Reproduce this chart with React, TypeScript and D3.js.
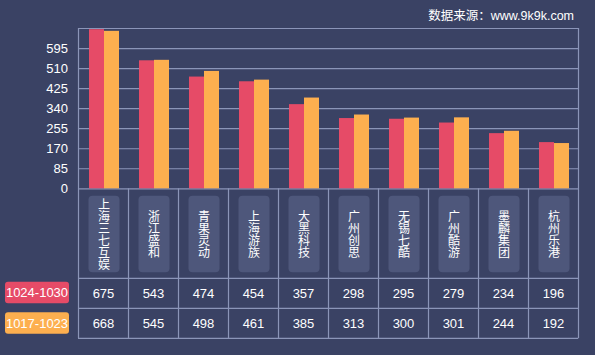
import React from "react";
import * as d3 from "d3";

const categories = ["上海三七互娱", "浙江盛和", "青果灵动", "上海游族", "大黑科技", "广州创思", "无锡七酷", "广州酷游", "墨麟集团", "杭州乐港"];
const seriesNames = ["1024-1030", "1017-1023"];
const series1 = [675, 543, 474, 454, 357, 298, 295, 279, 234, 196];
const series2 = [668, 545, 498, 461, 385, 313, 300, 301, 244, 192];
const yTicks = [0, 85, 170, 255, 340, 425, 510, 595];
const colors = ["#e64b67", "#fdaf4f"];

const W = 595, H = 355;
const L = 78, R = 578, T = 28, Z = 188.3;
const labelBottom = 278.3, row1Bottom = 308.3, row2Bottom = 338.3;
const BG = "#3a4264";
const GRID = "#8b95b8";
const MIXED = "'Liberation Sans', 'Noto Sans CJK SC', sans-serif";

export default function App() {
  const x = d3.scaleBand<string>().domain(categories).range([L, R]).padding(0);
  const y = d3.scaleLinear().domain([0, 680]).range([Z, T]);
  const bw = 15;
  const data = [series1, series2];
  return (
    <svg width={W} height={H} style={{ position: "fixed", left: 0, top: 0, background: BG }}
      fontFamily="'Liberation Sans', Arial, sans-serif">
      <rect x={0} y={0} width={W} height={H} fill={BG} />
      <text x={574} y={20} fill="#fff" fontSize={12.5} textAnchor="end"
        fontFamily={MIXED}>数据来源：www.9k9k.com</text>
      {/* grid lines */}
      {yTicks.map((t) => (
        <g key={t}>
          <line x1={L} x2={R} y1={y(t) + 0.5} y2={y(t) + 0.5} stroke={GRID} strokeWidth={1.2} />
          <text x={68} y={y(t) + 4.5} fill="#fff" fontSize={13} textAnchor="end">{t}</text>
        </g>
      ))}
      <line x1={L} x2={R} y1={T + 0.5} y2={T + 0.5} stroke={GRID} strokeWidth={1.2} />
      {/* bars */}
      {categories.map((c, i) => {
        const cx = (x(c) as number) + x.bandwidth() / 2 + 1;
        return data.map((s, k) => (
          <rect key={c + k} x={cx - bw + k * bw} y={y(s[i])} width={bw} height={Z - y(s[i])} fill={colors[k]} />
        ));
      })}
      {/* vertical lines */}
      <line x1={L + 0.5} x2={L + 0.5} y1={T} y2={row2Bottom} stroke={GRID} strokeWidth={1.2} />
      <line x1={R + 0.5} x2={R + 0.5} y1={T} y2={row2Bottom} stroke={GRID} strokeWidth={1.2} />
      {categories.slice(1).map((c) => (
        <line key={c} x1={(x(c) as number) + 0.5} x2={(x(c) as number) + 0.5} y1={Z} y2={row2Bottom} stroke={GRID} strokeWidth={1.2} />
      ))}
      {[labelBottom, row1Bottom, row2Bottom].map((yy) => (
        <line key={yy} x1={L} x2={R} y1={yy} y2={yy} stroke={GRID} strokeWidth={1.2} />
      ))}
      {/* category labels */}
      {categories.map((c) => {
        const cx = (x(c) as number) + x.bandwidth() / 2 + 1;
        return (
          <g key={c}>
            <rect x={cx - 15.5} y={195.7} width={31} height={76.6} rx={4} fill="#4e577b" />
            <text x={cx} y={234} fill="#fff" fontSize={12} textAnchor="middle"
              style={{ writingMode: "vertical-rl", textOrientation: "upright" } as any}
              fontFamily="'Noto Sans CJK SC', sans-serif">{c}</text>
          </g>
        );
      })}
      {/* table values */}
      {data.map((s, k) => {
        const top = k === 0 ? labelBottom : row1Bottom;
        return (
          <g key={k}>
            <rect x={5} y={k === 0 ? 281.7 : 312.3} width={64} height={21.5} rx={3} fill={colors[k]} />
            <text x={37} y={(k === 0 ? 281.7 : 312.3) + 15.3} fill="#fff" fontSize={13} textAnchor="middle">{seriesNames[k]}</text>
            {categories.map((c, i) => (
              <text key={c} x={(x(c) as number) + x.bandwidth() / 2 + 0.5} y={top + 19.5} fill="#fff" fontSize={13} textAnchor="middle">{s[i]}</text>
            ))}
          </g>
        );
      })}
    </svg>
  );
}
